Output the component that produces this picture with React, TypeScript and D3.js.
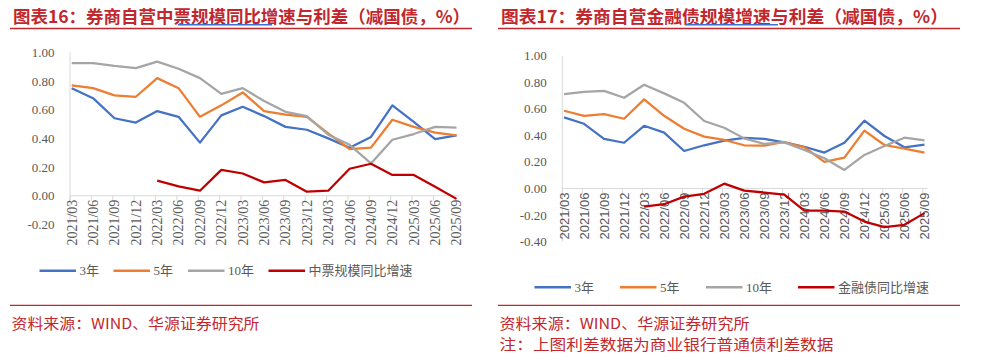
import * as d3 from 'd3';

const dates = ['2021/03', '2021/06', '2021/09', '2021/12', '2022/03', '2022/06', '2022/09', '2022/12', '2023/03', '2023/06', '2023/09', '2023/12', '2024/03', '2024/06', '2024/09', '2024/12', '2025/03', '2025/06', '2025/09'];

// 图表16 中票
const zp3y = [0.75, 0.68, 0.54, 0.51, 0.59, 0.55, 0.37, 0.56, 0.62, 0.555, 0.48, 0.46, 0.40, 0.335, 0.41, 0.63, 0.515, 0.395, 0.42];
const zp5y = [0.77, 0.75, 0.70, 0.69, 0.82, 0.75, 0.55, 0.63, 0.72, 0.59, 0.565, 0.55, 0.435, 0.325, 0.335, 0.53, 0.48, 0.44, 0.42];
const zp10y = [0.925, 0.925, 0.905, 0.89, 0.935, 0.885, 0.82, 0.71, 0.75, 0.66, 0.585, 0.555, 0.425, 0.355, 0.225, 0.39, 0.43, 0.48, 0.475];
const zpGrowth = [null, null, null, null, 0.105, 0.065, 0.035, 0.18, 0.155, 0.093, 0.11, 0.028, 0.035, 0.188, 0.223, 0.145, 0.145, 0.063, -0.022];
const zpTicks = [-0.2, 0, 0.2, 0.4, 0.6, 0.8, 1.0];

// 图表17 金融债
const jr3y = [0.535, 0.487, 0.374, 0.344, 0.472, 0.42, 0.282, 0.325, 0.36, 0.38, 0.374, 0.347, 0.314, 0.27, 0.344, 0.51, 0.395, 0.31, 0.33];
const jr5y = [0.585, 0.547, 0.56, 0.525, 0.671, 0.547, 0.45, 0.39, 0.365, 0.325, 0.322, 0.35, 0.31, 0.20, 0.232, 0.435, 0.327, 0.30, 0.27];
const jr10y = [0.711, 0.728, 0.735, 0.683, 0.781, 0.716, 0.645, 0.508, 0.457, 0.377, 0.335, 0.347, 0.289, 0.227, 0.139, 0.252, 0.32, 0.382, 0.362];
const jrGrowth = [null, null, null, null, -0.137, -0.119, -0.062, -0.041, 0.036, -0.017, -0.031, -0.047, -0.167, -0.167, -0.174, -0.25, -0.292, -0.274, -0.186];
const jrTicks = [-0.4, -0.2, 0, 0.2, 0.4, 0.6, 0.8, 1.0];

const colors = ['#4472c4', '#ed7d31', '#a5a5a5', '#c00000'];
const RED = '#c1272d';
const AXIS = '#d9d9d9';
const LABEL = '#595959';
const CJK = '"Noto Sans CJK SC", sans-serif';

type PanelProps = {
  ox: number;
  title: string;
  titleLen: number;
  squiggle: [number, number];
  series: (number | null)[][];
  names: string[];
  ticks: number[];
  xRange: [number, number];
  yRange: [number, number];
  xFont: string;
  xSize: number;
  legendY: number;
  legendX: number[];
  notes: { text: string; len: number; y: number }[];
};

function Panel(p: PanelProps) {
  const x = d3.scalePoint<string>().domain(dates).range(p.xRange);
  const y = d3.scaleLinear().domain([p.ticks[0], p.ticks[p.ticks.length - 1]]).range(p.yRange);
  const axisX = p.xRange[0] - 1.7;
  const y0 = y(0);
  const line = d3.line<number | null>()
    .defined(d => d !== null)
    .x((d, i) => x(dates[i]) as number)
    .y(d => y(d as number));

  return (
    <g>
      <text x={p.ox + 3} y={23} fontFamily={CJK} fontWeight={700} fontSize={17.5} fill={RED}
        textLength={p.titleLen} lengthAdjust="spacingAndGlyphs">{p.title}</text>
      <line x1={p.squiggle[0]} x2={p.squiggle[1]} y1={24.8} y2={24.8} stroke="#3d6fd8" strokeWidth={1.5} />
      <line x1={p.ox} x2={p.ox + 462} y1={28.5} y2={28.5} stroke={RED} strokeWidth={1.5} />

      {/* y axis */}
      <line x1={axisX} x2={axisX} y1={p.yRange[1]} y2={p.yRange[0]} stroke={AXIS} strokeWidth={1} />
      {p.ticks.map(t => (
        <text key={t} x={axisX - 15.5} y={y(t)} dy="0.35em" textAnchor="end"
          fontFamily='"Liberation Serif", serif' fontSize={13} fill={LABEL}>{t.toFixed(2)}</text>
      ))}

      {/* x axis */}
      <line x1={axisX} x2={p.xRange[1] + 3} y1={y0} y2={y0} stroke={AXIS} strokeWidth={1} />
      {dates.map(d => (
        <g key={d}>
          <line x1={(x(d) as number) - 1.7} x2={(x(d) as number) - 1.7} y1={y0} y2={y0 + 5} stroke={AXIS} strokeWidth={1} />
          <text transform={`translate(${x(d)},${y0 + 4}) rotate(-90)`} dy="0.35em" textAnchor="end"
            fontFamily={p.xFont} fontSize={p.xSize} fill={LABEL}>{d}</text>
        </g>
      ))}

      {p.series.map((s, i) => (
        <path key={i} d={line(s) || ''} fill="none" stroke={colors[i]} strokeWidth={2.25} strokeLinejoin="round" />
      ))}

      {/* legend */}
      {p.names.map((n, i) => (
        <g key={n}>
          <line x1={p.legendX[i]} x2={p.legendX[i] + 36.5} y1={p.legendY} y2={p.legendY} stroke={colors[i]} strokeWidth={2.5} />
          <text x={p.legendX[i] + 40} y={p.legendY} dy="0.36em" fontFamily={'"Liberation Serif", ' + CJK}
            fontSize={13} fill={LABEL}>{n}</text>
        </g>
      ))}

      <line x1={p.ox} x2={p.ox + 462} y1={305.3} y2={305.3} stroke={RED} strokeWidth={1.2} />
      {p.notes.map(n => (
        <text key={n.text} x={p.ox + 1.5} y={n.y} fontFamily={CJK} fontSize={14.5} fill={RED}
          textLength={n.len} lengthAdjust="spacingAndGlyphs">{n.text}</text>
      ))}
    </g>
  );
}

export default function App() {
  return (
    <svg width={985} height={363} style={{ position: 'absolute', left: 0, top: 0, background: '#fff' }}>
      <Panel
        ox={10}
        title="图表16：券商自营中票规模同比增速与利差（减国债，%）"
        titleLen={457}
        squiggle={[178, 272]}
        series={[zp3y, zp5y, zp10y, zpGrowth]}
        names={['3年', '5年', '10年', '中票规模同比增速']}
        ticks={zpTicks}
        xRange={[71.7, 456.5]}
        yRange={[224.4, 52.3]}
        xFont='"Liberation Serif", serif'
        xSize={14}
        legendY={270.7}
        legendX={[39.5, 113.5, 188, 268.5]}
        notes={[{ text: '资料来源：WIND、华源证券研究所', len: 248, y: 328.5 }]}
      />
      <Panel
        ox={498}
        title="图表17：券商自营金融债规模增速与利差（减国债，%）"
        titleLen={447}
        squiggle={[685, 778]}
        series={[jr3y, jr5y, jr10y, jrGrowth]}
        names={['3年', '5年', '10年', '金融债同比增速']}
        ticks={jrTicks}
        xRange={[564, 924.5]}
        yRange={[241.5, 55.7]}
        xFont='"Liberation Sans", sans-serif'
        xSize={13}
        legendY={287.3}
        legendX={[534.5, 620, 706, 798]}
        notes={[
          { text: '资料来源：WIND、华源证券研究所', len: 250, y: 328.5 },
          { text: '注：上图利差数据为商业银行普通债利差数据', len: 334, y: 349.5 },
        ]}
      />
    </svg>
  );
}
